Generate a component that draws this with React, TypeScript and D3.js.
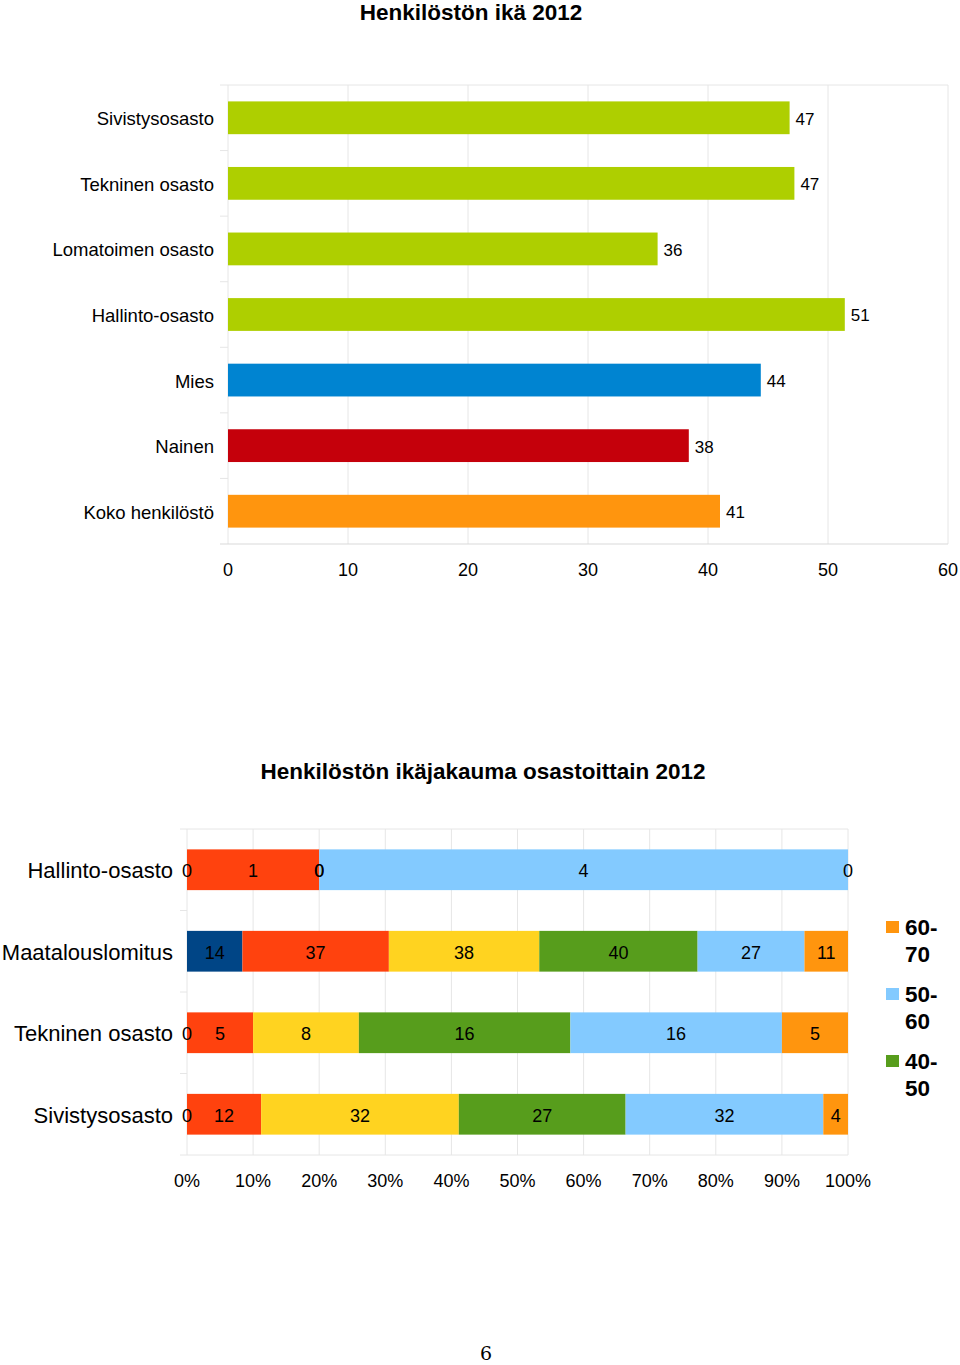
import React from "react";
import * as d3 from "d3";

const topCategories = ["Sivistysosasto", "Tekninen osasto", "Lomatoimen osasto", "Hallinto-osasto", "Mies", "Nainen", "Koko henkilöstö"];
const topValues = [46.8, 47.2, 35.8, 51.4, 44.4, 38.4, 41.0];
const topColors = ["#aecf00", "#aecf00", "#aecf00", "#aecf00", "#0084d1", "#c5000b", "#ff950e"];
const topTicks = [0, 10, 20, 30, 40, 50, 60];

const stackCategories = ["Hallinto-osasto", "Maatalouslomitus", "Tekninen osasto", "Sivistysosasto"];
const seriesNames = ["alle 20", "20-30", "30-40", "40-50", "50-60", "60-70"];
const seriesColors = ["#004586", "#ff420e", "#ffd320", "#579d1c", "#83caff", "#ff950e"];
const s0 = [0, 14, 0, 0];
const s1 = [1, 37, 5, 12];
const s2 = [0, 38, 8, 32];
const s3 = [0, 40, 16, 27];
const s4 = [4, 27, 16, 32];
const s5 = [0, 11, 5, 4];
const seriesValues = [s0, s1, s2, s3, s4, s5];
const legendShown = ["60-70", "50-60", "40-50"];
const pctTicks = [0, 0.1, 0.2, 0.3, 0.4, 0.5, 0.6, 0.7, 0.8, 0.9, 1];

const FONT = "'Liberation Sans', Arial, sans-serif";
const GRID = "#e6e6e6";

export default function App() {
  // Top chart
  const x1 = d3.scaleLinear().domain([0, 60]).range([228, 948]);
  const y1 = d3.scaleBand<string>().domain(topCategories).range([85, 544]).paddingInner(0.5).paddingOuter(0.25);
  const step1 = y1.step();

  // Bottom chart
  const x2 = d3.scaleLinear().domain([0, 1]).range([187, 848]);
  const y2 = d3.scaleBand<string>().domain(stackCategories).range([829, 1155]).paddingInner(0.5).paddingOuter(0.25);
  const step2 = y2.step();

  const rows = stackCategories.map((cat, i) => {
    const vals = seriesValues.map((s) => s[i]);
    const total = d3.sum(vals);
    let acc = 0;
    const segs = vals.map((v, k) => {
      const start = acc / total;
      acc += v;
      const end = acc / total;
      return { v, k, start, end };
    });
    return { cat, segs };
  });

  const legendY = [927, 994, 1061];

  return (
    <svg width={960} height={1365} style={{ display: "block", position: "absolute", left: 0, top: 0 }} fontFamily={FONT}>
      <rect x={0} y={0} width={960} height={1365} fill="#fff" />
      {/* Top chart */}
      <text x={471} y={20} textAnchor="middle" fontSize={22.5} fontWeight="bold">Henkilöstön ikä 2012</text>
      {topTicks.map((t) => (
        <line key={"g1" + t} x1={x1(t)} x2={x1(t)} y1={85} y2={544} stroke={GRID} strokeWidth={1} />
      ))}
      <line x1={228} x2={948} y1={85} y2={85} stroke={GRID} />
      <line x1={220} x2={948} y1={544} y2={544} stroke="#d9d9d9" />
      {topCategories.map((c, i) => (
        <line key={"tk1" + i} x1={220} x2={228} y1={85 + i * step1} y2={85 + i * step1} stroke={GRID} />
      ))}
      {topCategories.map((c, i) => {
        const y = y1(c)!;
        const h = y1.bandwidth();
        return (
          <g key={"b1" + i}>
            <rect x={x1(0)} y={y} width={x1(topValues[i]) - x1(0)} height={h} fill={topColors[i]} />
            <text x={x1(topValues[i]) + 6} y={y + h / 2 + 1} dy="0.35em" fontSize={17}>{Math.round(topValues[i])}</text>
            <text x={214} y={y + h / 2 + 1} dy="0.35em" textAnchor="end" fontSize={18.5}>{c}</text>
          </g>
        );
      })}
      {topTicks.map((t) => (
        <text key={"tl1" + t} x={x1(t)} y={570} dy="0.35em" textAnchor="middle" fontSize={18}>{t}</text>
      ))}

      {/* Bottom chart */}
      <text x={483} y={779} textAnchor="middle" fontSize={22.5} fontWeight="bold">Henkilöstön ikäjakauma osastoittain 2012</text>
      {pctTicks.map((t) => (
        <line key={"g2" + t} x1={x2(t)} x2={x2(t)} y1={829} y2={1155} stroke={GRID} />
      ))}
      <line x1={187} x2={848} y1={829} y2={829} stroke={GRID} />
      <line x1={180} x2={848} y1={1155} y2={1155} stroke={GRID} />
      {stackCategories.map((c, i) => (
        <line key={"tk2" + i} x1={180} x2={187} y1={829 + i * step2} y2={829 + i * step2} stroke={GRID} />
      ))}
      {rows.map((r, i) => {
        const y = y2(r.cat)!;
        const h = y2.bandwidth();
        return (
          <g key={"r2" + i}>
            {r.segs.map((s) => (
              <rect key={"s" + s.k} x={x2(s.start)} y={y} width={x2(s.end) - x2(s.start)} height={h} fill={seriesColors[s.k]} />
            ))}
            {r.segs.map((s) => (
              <text key={"l" + s.k} x={(x2(s.start) + x2(s.end)) / 2} y={y + h / 2 + 1} dy="0.35em" textAnchor="middle" fontSize={18}>{s.v}</text>
            ))}
            <text x={173} y={y + h / 2 + 1} dy="0.35em" textAnchor="end" fontSize={22}>{r.cat}</text>
          </g>
        );
      })}
      {pctTicks.map((t) => (
        <text key={"tl2" + t} x={x2(t)} y={1181} dy="0.35em" textAnchor="middle" fontSize={18}>{Math.round(t * 100) + "%"}</text>
      ))}
      {legendShown.map((name, i) => {
        const k = seriesNames.indexOf(name);
        const parts = name.split("-");
        return (
          <g key={"lg" + i}>
            <rect x={886} y={legendY[i] - 6} width={13} height={12} fill={seriesColors[k]} />
            <text x={905} y={legendY[i] + 8} fontSize={22.5} fontWeight="bold">{parts[0] + "-"}</text>
            <text x={905} y={legendY[i] + 35} fontSize={22.5} fontWeight="bold">{parts[1]}</text>
          </g>
        );
      })}

      <text x={486} y={1360} textAnchor="middle" fontSize={19} fontFamily="'DejaVu Serif', serif">6</text>
    </svg>
  );
}
